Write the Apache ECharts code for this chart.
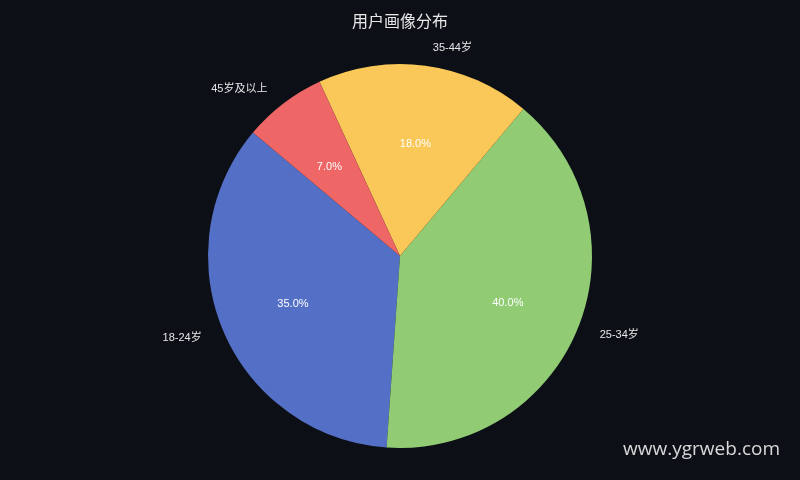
<!DOCTYPE html>
<html>
<head>
<meta charset="utf-8">
<script src="https://cdn.jsdelivr.net/npm/echarts@6/dist/echarts.min.js"></script>
<style>
html,body{margin:0;padding:0;background:#0c0f15;}
#main{width:800px;height:480px;}
</style>
</head>
<body>
<div id="main"></div>
<script>
// 年龄段
var ageNames=['18-24岁','25-34岁','35-44岁','45岁及以上'];
// 占比
var ageValues=[35,40,18,7];
var colors=['#5470c6','#91cc75','#fac858','#ee6666'];

var myChart=echarts.init(document.getElementById('main'));
var pieData=[];
for(var i=0;i<ageNames.length;i++){
	pieData.push({name:ageNames[i],value:ageValues[i],itemStyle:{color:colors[i]}});
}
var R=192;
var font='"Liberation Sans", "Noto Sans CJK SC", sans-serif';
var option={
	backgroundColor:'#0c0f15',
	title:{
		text:'用户画像分布',
		left:'center',
		top:8,
		textStyle:{color:'#e6e6e6',fontSize:16,fontWeight:'normal',fontFamily:'Noto Sans CJK SC'}
	},
	graphic:[{
		type:'text',
		right:20,
		top:440,
		style:{text:'www.ygrweb.com',fill:'#d8d8d8',font:'19px "Open Sans"'}
	}],
	series:[{
		// 外侧名称
		type:'pie',
		center:[400,256],
		radius:[0,R],
		startAngle:140,
		clockwise:false,
		silent:true,
		data:pieData,
		label:{show:true,position:'outside',formatter:'{b}',color:'#e6e6e6',fontSize:11,fontFamily:font},
		labelLine:{show:false,length:18,length2:0}
	},{
		// 百分比
		type:'pie',
		center:[400,256],
		radius:[0,R*1.18],
		startAngle:140,
		clockwise:false,
		silent:true,
		z:3,
		data:pieData.map(function(d){return {name:d.name,value:d.value,itemStyle:{color:'rgba(0,0,0,0)'}};}),
		label:{show:true,position:'inside',color:'#ffffff',fontSize:11,fontFamily:font,offset:[0,3],
			formatter:function(p){return p.percent.toFixed(1)+'%';}},
		labelLine:{show:false}
	}]
};
myChart.setOption(option);
</script>
</body>
</html>
